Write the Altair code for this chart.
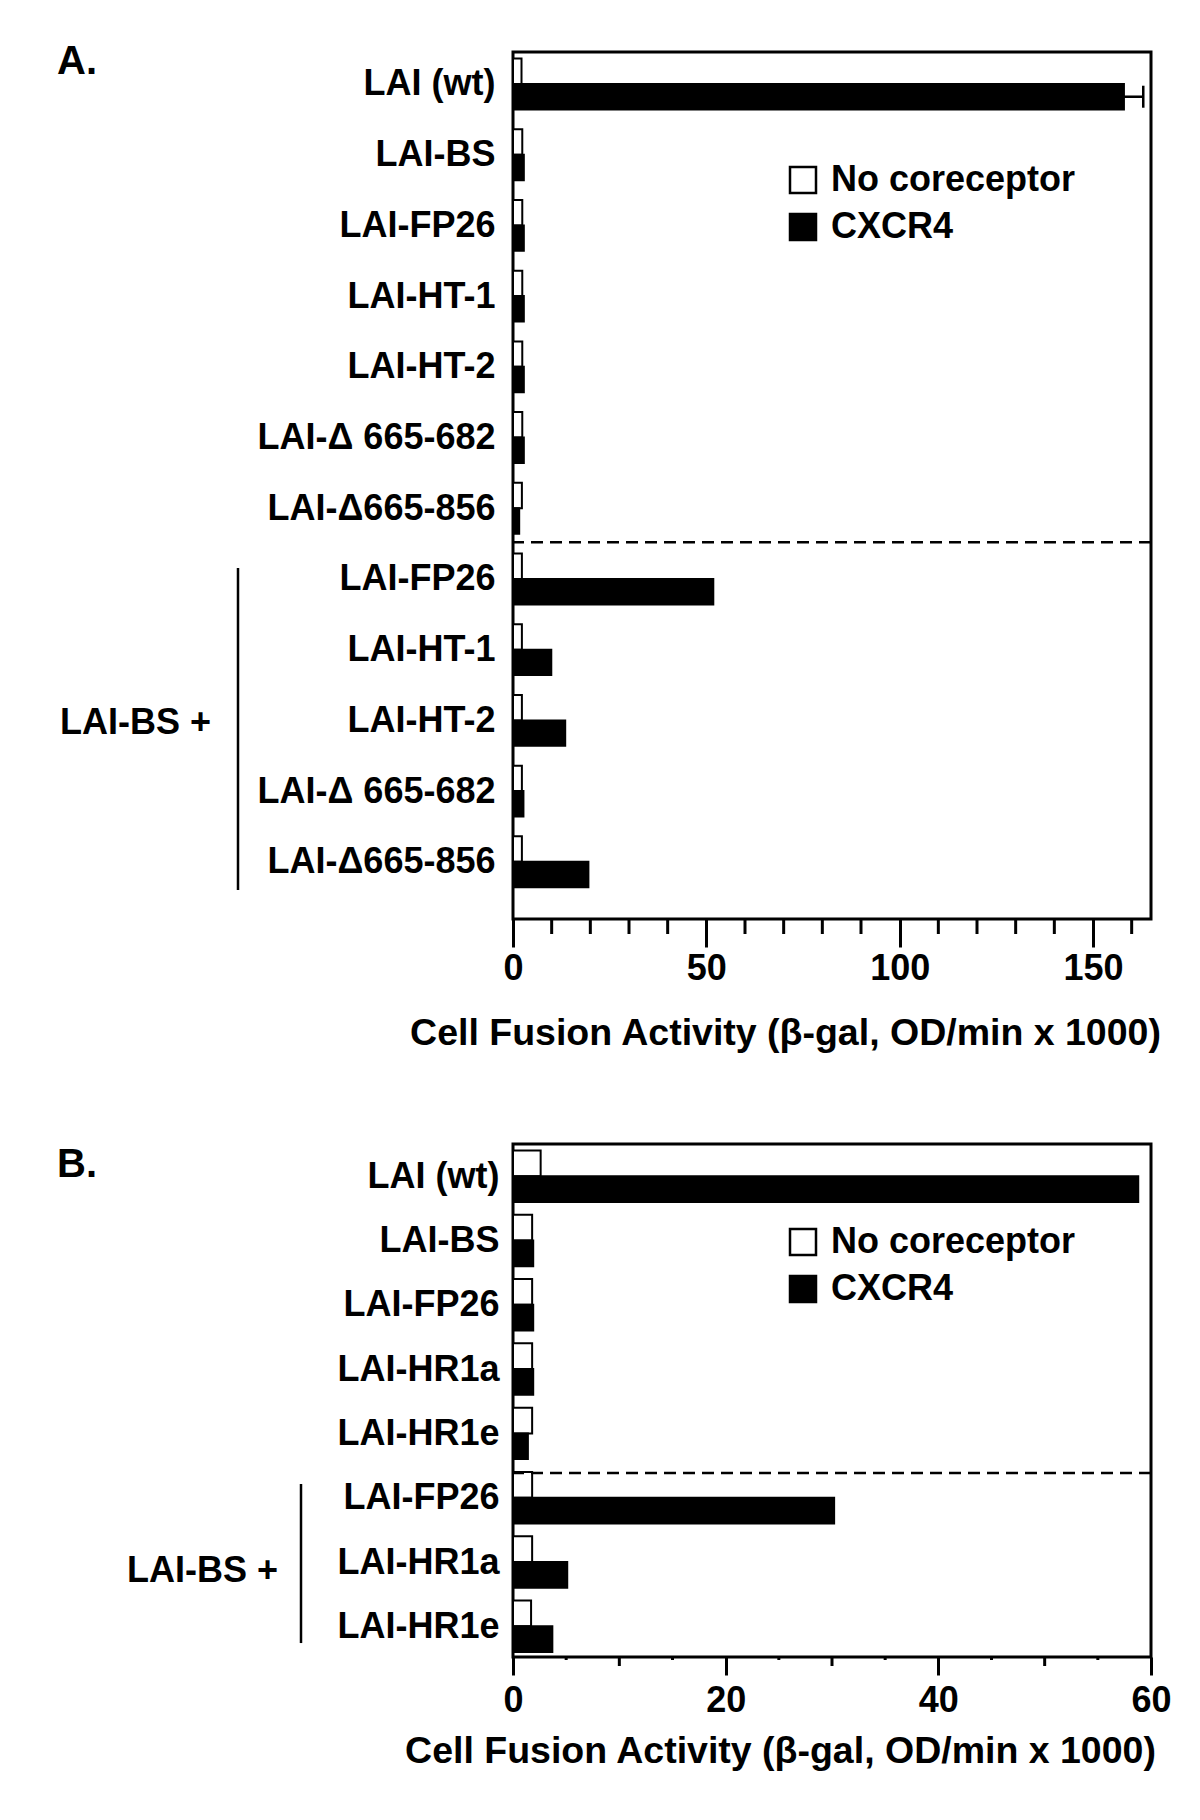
import altair as alt
import pandas as pd

FONT = "Liberation Sans"
SERIES = ["No coreceptor", "CXCR4"]
X_TITLE = "Cell Fusion Activity (β-gal, OD/min x 1000)"
GROUP_LABEL = "LAI-BS +"

# ---------------- Panel A data ----------------
A_labels = ["LAI (wt)", "LAI-BS", "LAI-FP26", "LAI-HT-1", "LAI-HT-2", "LAI-Δ 665-682", "LAI-Δ665-856",
            "LAI-FP26", "LAI-HT-1", "LAI-HT-2", "LAI-Δ 665-682", "LAI-Δ665-856"]
A_no_coreceptor = [2.2, 2.4, 2.4, 2.4, 2.4, 2.4, 2.3, 2.3, 2.3, 2.3, 2.3, 2.3]
A_cxcr4 = [158, 2.8, 2.8, 2.8, 2.8, 2.8, 1.6, 51.8, 9.9, 13.5, 2.7, 19.5]
A_wt_cxcr4_error = 5.0
A_mix_start = 7
A_x_max = 165
A_major_ticks = [0, 50, 100, 150]
A_minor_ticks = [10, 20, 30, 40, 60, 70, 80, 90, 110, 120, 130, 140, 160]

# ---------------- Panel B data ----------------
B_labels = ["LAI (wt)", "LAI-BS", "LAI-FP26", "LAI-HR1a", "LAI-HR1e",
            "LAI-FP26", "LAI-HR1a", "LAI-HR1e"]
B_no_coreceptor = [2.6, 1.8, 1.8, 1.8, 1.8, 1.8, 1.8, 1.7]
B_cxcr4 = [58.8, 1.9, 1.9, 1.9, 1.4, 30.2, 5.1, 3.7]
B_mix_start = 5
B_x_max = 60
B_major_ticks = [0, 20, 40, 60]
B_mid_ticks = [10, 30, 50]
B_small_ticks = [5, 15, 25, 35, 45, 55]


def build_panel(letter, labels, none_vals, cx_vals, mix_start, x_max, tick_groups,
                width, height, st, error=None):
    n = len(labels)
    bh = st["bar_h"]
    recs = []
    for i in range(n):
        recs.append({"row": i, "series": SERIES[0], "value": none_vals[i], "y0": i - bh, "y1": i})
        recs.append({"row": i, "series": SERIES[1], "value": cx_vals[i], "y0": i, "y1": i + bh})
    df = pd.DataFrame(recs)

    y_scale = alt.Scale(domain=[-st["top_pad"], n - 1 + st["bot_pad"]], reverse=True,
                        nice=False, zero=False)
    x_scale = alt.Scale(domain=[0, x_max], nice=False, zero=True)
    fill_scale = alt.Scale(domain=SERIES, range=["white", "black"])

    label_expr = "[" + ", ".join("'" + s + "'" for s in labels) + "][datum.value]"
    y_axis = alt.Axis(values=list(range(n)), labelExpr=label_expr, ticks=False, domain=False,
                      grid=False, title=None, labelFont=FONT, labelFontSize=36,
                      labelFontWeight="bold", labelColor="black", labelPadding=st["y_label_pad"],
                      labelLimit=600, labelAlign="right", labelBaseline="middle",
                      labelOverlap=False, labelFlush=False)
    major_vals, major_len = tick_groups[0]
    x_axis = alt.Axis(orient="bottom", values=major_vals, tickSize=major_len, tickWidth=3,
                      tickColor="black", labelFont=FONT, labelFontSize=36, labelFontWeight="bold",
                      labelColor="black", labelPadding=st["x_label_pad"], labelFlush=False,
                      labelOverlap=False, format="d", domain=False, grid=False, title=X_TITLE,
                      titleFont=FONT, titleFontSize=37.5, titleFontWeight="bold",
                      titleColor="black", titlePadding=st["title_pad"], titleLimit=1200,
                      titleX=st["title_x"])
    legend = alt.Legend(orient="none", legendX=st["legend_x"], legendY=st["legend_y"], title=None,
                        direction="vertical", symbolType="square", symbolSize=676,
                        symbolStrokeColor="black", symbolStrokeWidth=2.5, labelFont=FONT,
                        labelFontSize=36, labelFontWeight="bold", labelColor="black",
                        labelOffset=10, labelLimit=600, rowPadding=st["legend_row_pad"], padding=0)

    bars = alt.Chart(df).mark_rect(stroke="black", strokeWidth=2).encode(
        x=alt.X("value:Q", scale=x_scale, axis=x_axis),
        x2=alt.datum(0),
        y=alt.Y("y0:Q", scale=y_scale, axis=y_axis),
        y2="y1:Q",
        fill=alt.Fill("series:N", scale=fill_scale, legend=legend),
    )
    layers = [bars]

    # shorter ticks drawn as rules below the frame, positioned through the x scale
    for vals, length in tick_groups[1:]:
        layers.append(alt.Chart(pd.DataFrame({"v": vals})).mark_rule(
            color="black", strokeWidth=3).encode(
            x=alt.X("v:Q", scale=x_scale, axis=x_axis),
            y=alt.value(height), y2=alt.value(height + length)))

    sep = alt.Chart(pd.DataFrame({"pos": [mix_start - st["sep_off"]]})).mark_rule(
        color="black", strokeWidth=2.5, strokeDash=[12, 7]).encode(
        y=alt.Y("pos:Q", scale=y_scale, axis=y_axis))
    layers.append(sep)

    br = alt.Chart(pd.DataFrame({"start": [mix_start - st["br_top"]],
                                 "end": [n - 1 + st["br_bot"]]})).mark_rule(
        color="black", strokeWidth=2.5).encode(
        x=alt.value(st["bracket_x"]),
        y=alt.Y("start:Q", scale=y_scale, axis=y_axis),
        y2="end:Q")
    layers.append(br)

    grp = alt.Chart(pd.DataFrame({"pos": [(mix_start + n - 1) / 2 + st["group_dy"]],
                                  "t": [GROUP_LABEL]})).mark_text(
        align="right", baseline="middle", font=FONT, fontSize=36, fontWeight="bold",
        color="black").encode(
        x=alt.value(st["group_x"]),
        y=alt.Y("pos:Q", scale=y_scale, axis=y_axis),
        text="t:N")
    layers.append(grp)

    let = alt.Chart(pd.DataFrame({"t": [letter]})).mark_text(
        align="left", baseline="alphabetic", font=FONT, fontSize=40, fontWeight="bold",
        color="black").encode(
        x=alt.value(st["letter_x"]), y=alt.value(st["letter_y"]), text="t:N")
    layers.append(let)

    if error is not None:
        row, lo, err = error
        edf = pd.DataFrame({"pos": [row + bh / 2], "lo": [lo], "hi": [lo + err]})
        layers.append(alt.Chart(edf).mark_rule(color="black", strokeWidth=2.5).encode(
            x=alt.X("lo:Q", scale=x_scale, axis=x_axis), x2="hi:Q",
            y=alt.Y("pos:Q", scale=y_scale, axis=y_axis)))
        layers.append(alt.Chart(edf).mark_tick(color="black", orient="vertical", size=22,
                                               thickness=2.5, opacity=1).encode(
            x=alt.X("hi:Q", scale=x_scale, axis=x_axis),
            y=alt.Y("pos:Q", scale=y_scale, axis=y_axis)))

    return alt.layer(*layers).properties(width=width, height=height)


style_A = dict(bar_h=0.36, top_pad=0.4525, bot_pad=0.809, y_label_pad=18, x_label_pad=4,
               title_pad=28, title_x=272, legend_x=272, legend_y=110, legend_row_pad=11,
               sep_off=0.52, br_top=0.155, br_bot=0.4, group_dy=0.04,
               bracket_x=-275, group_x=-302, letter_x=-456, letter_y=22)
style_B = dict(bar_h=0.4, top_pad=0.50, bot_pad=0.477, y_label_pad=14, x_label_pad=8,
               title_pad=14, title_x=267, legend_x=272, legend_y=80, legend_row_pad=11,
               sep_off=0.384, br_top=0.213, br_bot=0.26, group_dy=0.14,
               bracket_x=-212, group_x=-235, letter_x=-456, letter_y=33)

panel_A = build_panel("A.", A_labels, A_no_coreceptor, A_cxcr4, A_mix_start, A_x_max,
                      [(A_major_ticks, 28), (A_minor_ticks, 15)], 638, 867, style_A,
                      error=(0, A_cxcr4[0], A_wt_cxcr4_error))
panel_B = build_panel("B.", B_labels, B_no_coreceptor, B_cxcr4, B_mix_start, B_x_max,
                      [(B_major_ticks, 18), (B_mid_ticks, 9), (B_small_ticks, 3)], 638, 513, style_B)

chart = alt.vconcat(panel_A, panel_B, spacing=89).resolve_scale(
    fill="independent").resolve_legend(fill="independent").properties(
    padding={"left": 47, "top": 32, "right": 10, "bottom": 10}
).configure(background="white").configure_view(stroke="black", strokeWidth=3)

chart.save("out.html", embed_options={"renderer": "svg", "actions": False})
